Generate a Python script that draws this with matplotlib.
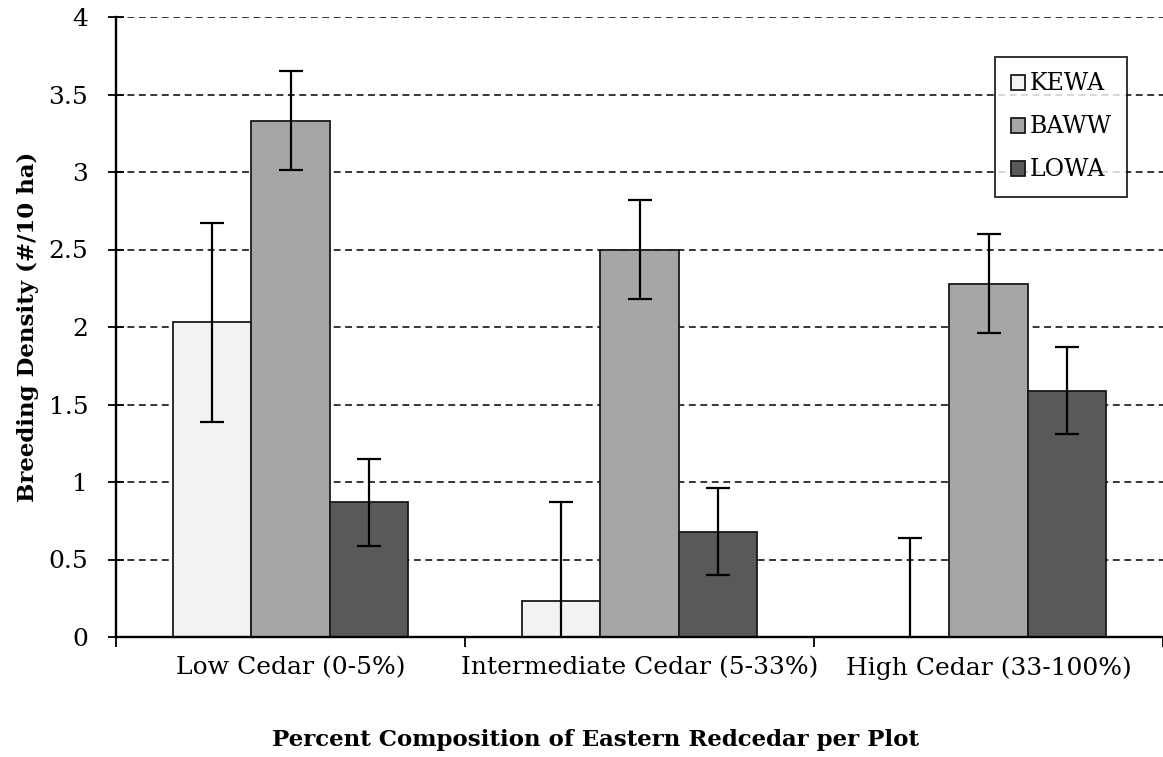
import numpy as np
import matplotlib
matplotlib.use("Agg")
import matplotlib.pyplot as plt

categories = ["Low Cedar (0-5%)", "Intermediate Cedar (5-33%)", "High Cedar (33-100%)"]
species = ["KEWA", "BAWW", "LOWA"]

# breeding density (#/10 ha) and standard error per species
kewa = [2.03, 0.23, 0.0]
baww = [3.33, 2.50, 2.28]
lowa = [0.87, 0.68, 1.59]
kewa_err = [0.64, 0.64, 0.64]
baww_err = [0.32, 0.32, 0.32]
lowa_err = [0.28, 0.28, 0.28]

colors = ["#f2f2f2", "#a6a6a6", "#595959"]

plt.rcParams["font.family"] = ["DejaVu Serif"]

fig = plt.figure(figsize=(11.63, 7.57), dpi=100)
ax = fig.add_axes([116 / 1163, 1 - 637 / 757, 1 - 116 / 1163, 620 / 757])

x = np.arange(len(categories))
width = 0.2235
values = [kewa, baww, lowa]
errors = [kewa_err, baww_err, lowa_err]

for i, (name, vals, errs, col) in enumerate(zip(species, values, errors, colors)):
    pos = x + (i - 1) * width
    ax.bar(pos, vals, width, color=col, edgecolor="#1a1a1a", linewidth=1.3,
           label=name, zorder=2)
    ax.errorbar(pos, vals, yerr=errs, fmt="none", ecolor="black",
                elinewidth=1.6, capsize=8.5, capthick=1.6, zorder=3)

ax.set_xlim(-0.5, 2.5)
ax.set_ylim(0, 4)
ax.set_yticks(np.arange(0, 4.01, 0.5))
ax.set_yticklabels(["0", "0.5", "1", "1.5", "2", "2.5", "3", "3.5", "4"])
ax.yaxis.grid(True, color="black", linestyle=(0, (4.5, 3)), linewidth=1.1, zorder=0)
ax.set_axisbelow(True)

# group boundaries get the tick marks, the centres get the labels
ax.set_xticks([-0.5, 0.5, 1.5, 2.5])
ax.set_xticklabels([])
ax.set_xticks(x, minor=True)
ax.set_xticklabels(categories, minor=True)
ax.tick_params(axis="x", which="major", length=7, width=1.3, direction="out")
ax.tick_params(axis="x", which="minor", length=0, pad=14, labelsize=18)
ax.tick_params(axis="y", length=12, width=1.3, direction="inout", pad=14, labelsize=18)

for s in ["top", "right"]:
    ax.spines[s].set_visible(False)
for s in ["left", "bottom"]:
    ax.spines[s].set_linewidth(1.7)

fig.text(595 / 1163, 1 - 740 / 757, "Percent Composition of Eastern Redcedar per Plot",
         ha="center", va="center", fontsize=16.5, fontweight="bold")
fig.text(28 / 1163, 1 - 327 / 757, "Breeding Density (#/10 ha)", rotation=90,
         ha="center", va="center", fontsize=16.5, fontweight="bold")

leg = ax.legend(loc="upper right", bbox_to_anchor=(1127 / 1163, 1 - 57 / 757),
                bbox_transform=fig.transFigure, fontsize=17, frameon=True,
                fancybox=False, edgecolor="black", handlelength=0.6,
                handleheight=0.6, handletextpad=0.2, labelspacing=0.85,
                borderpad=0.65, borderaxespad=0)
leg.get_frame().set_linewidth(1.4)

fig.savefig("out.png", dpi=100)
